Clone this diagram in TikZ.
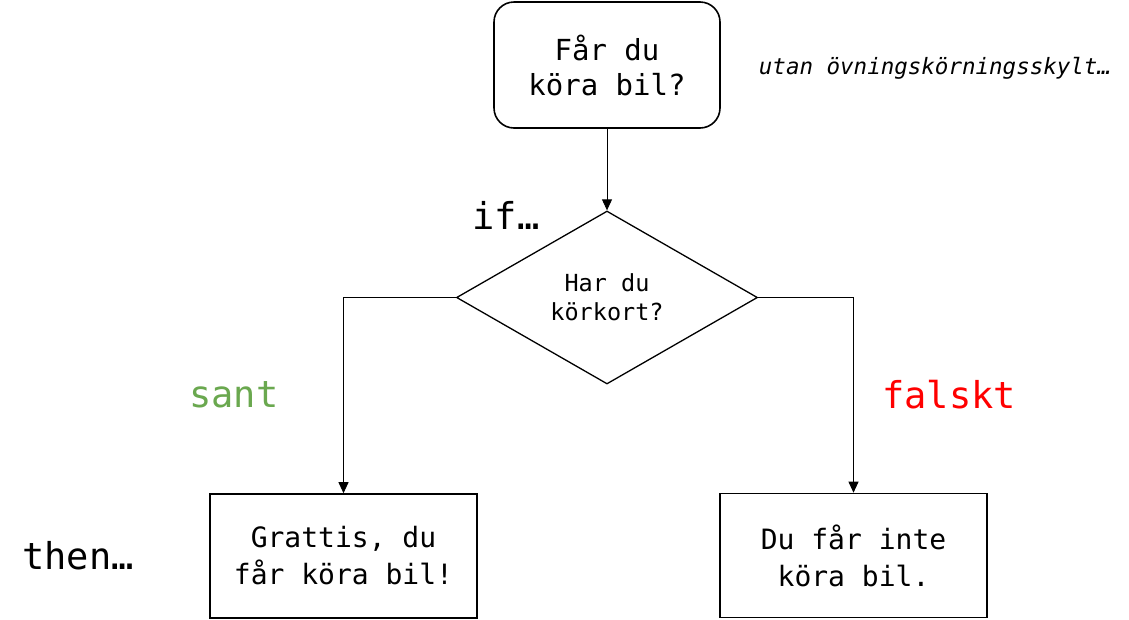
\documentclass[tikz,border=0pt]{standalone}
\usepackage{fontspec}
\setmonofont{DejaVu Sans Mono}
\usetikzlibrary{shapes.geometric,arrows.meta}
\definecolor{santgreen}{RGB}{106,168,79}
\definecolor{falsered}{RGB}{255,0,0}
\begin{document}
\begin{tikzpicture}[x=1pt,y=-1pt,
  box/.style={draw,line width=1.6pt,minimum width=267pt,minimum height=124pt,
    align=center,inner sep=0pt,font=\ttfamily\fontsize{28}{37}\selectfont},
  decision/.style={diamond,draw,line width=1.3pt,minimum width=301pt,minimum height=173pt,
    aspect=1.74,align=center,inner sep=0pt,font=\ttfamily\fontsize{23.5}{29}\selectfont},
  conn/.style={line width=0.9pt,-{Triangle[length=11pt,width=10pt]}},
  biglab/.style={font=\ttfamily\fontsize{37}{42}\selectfont,inner sep=0pt},
  note/.style={font=\ttfamily\itshape\fontsize{22.5}{26}\selectfont,inner sep=0pt}]
\useasboundingbox (0,0) rectangle (1129,619);
\node[box,rounded corners=20pt,minimum width=226pt,minimum height=126pt,
  font=\ttfamily\fontsize{29}{35}\selectfont] (start) at (607,65) {Får du\\köra bil?};
\node[decision] (dec) at (607,297.5) {Har du\\körkort?};
\node[box] (yes) at (343.5,556) {Grattis, du\\får köra bil!};
\node[box] (no) at (853.5,555.5) {Du får inte\\köra bil.};
\draw[conn] (start.south) -- (dec.north);
\draw[conn] (dec.west) -| (yes.north);
\draw[conn] (dec.east) -| (no.north);
\node[note] (hint) at (935,68) {utan övningskörningsskylt…};
\node[biglab] (iflab) at (506,215) {if…};
\node[biglab] (thenlab) at (78,556) {then…};
\node[biglab,text=santgreen] (santlab) at (234,395) {sant};
\node[biglab,text=falsered] (falsklab) at (949,395) {falskt};
\end{tikzpicture}
\end{document}
